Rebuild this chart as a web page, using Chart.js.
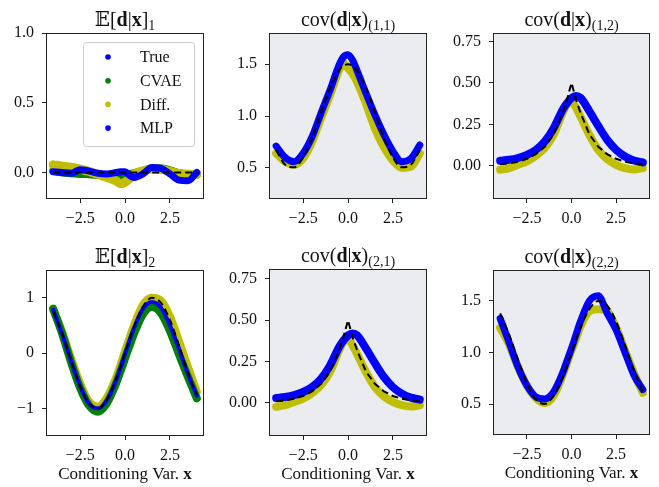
<!DOCTYPE html>
<html><head><meta charset="utf-8">
<script src="https://cdn.jsdelivr.net/npm/chart.js@4.4.1/dist/chart.umd.min.js"></script>
<style>
html,body{margin:0;padding:0;background:#fff;width:659px;height:487px;overflow:hidden;position:relative}
canvas{position:absolute}
</style></head><body>
<script>
// ---------- data ----------
const X = [-4,-3.5,-3,-2.5,-2,-1.5,-1,-0.5,-0.25,0,0.25,0.5,1,1.5,2,2.5,3,3.5,4];

// E[d|x]_1
const E1_REF  = [0,0,0,0,0,0,0,0,0,0,0,0,0,0,0,0,0,0,0];
const E1_MLP  = [0.005,0.0,-0.005,0.02,0.01,-0.005,-0.01,0.0,0.005,0.005,-0.02,-0.035,-0.01,0.035,0.03,-0.01,-0.055,-0.06,0.0];
const E1_CVAE = [0.012,0.0,-0.005,-0.01,-0.012,-0.018,-0.024,-0.026,-0.025,-0.02,-0.012,-0.005,0.01,0.028,0.03,0.015,-0.005,-0.012,-0.015];
const E1_DIFF = [0.055,0.045,0.038,0.025,0.008,-0.015,-0.035,-0.06,-0.08,-0.07,-0.045,-0.012,0.012,0.025,0.024,0.008,-0.006,-0.012,-0.014];

// cov(d|x)_(1,1)
const C11_REF  = [0.67,0.53,0.505,0.60,0.79,1.035,1.27,1.44,1.485,1.5,1.485,1.44,1.27,1.035,0.79,0.60,0.505,0.53,0.67];
const C11_MLP  = [0.71,0.60,0.56,0.64,0.80,1.03,1.25,1.49,1.57,1.59,1.54,1.44,1.22,1.01,0.82,0.66,0.56,0.59,0.72];
const C11_DIFF = [0.64,0.56,0.53,0.59,0.75,0.98,1.20,1.44,1.51,1.46,1.41,1.33,1.12,0.88,0.70,0.57,0.50,0.51,0.64];

// cov(d|x)_(1,2) = cov(d|x)_(2,1)
const C12_REF  = [0.01,0.015,0.025,0.042,0.07,0.115,0.19,0.32,0.40,0.50,0.40,0.32,0.19,0.115,0.07,0.042,0.025,0.015,0.01];
const C12_MLP  = [0.03,0.036,0.047,0.066,0.096,0.146,0.227,0.337,0.378,0.408,0.42,0.41,0.33,0.24,0.157,0.096,0.056,0.032,0.02];
const C12_DIFF = [-0.024,-0.014,0.006,0.026,0.06,0.107,0.187,0.317,0.37,0.385,0.35,0.297,0.187,0.096,0.04,0.006,-0.014,-0.022,-0.014];

// E[d|x]_2
const E2_REF  = [0.757,0.351,-0.141,-0.598,-0.909,-0.997,-0.841,-0.479,-0.247,0,0.247,0.479,0.841,0.997,0.909,0.598,0.141,-0.351,-0.757];
const E2_MLP  = [0.78,0.34,-0.15,-0.60,-0.92,-1.0,-0.85,-0.50,-0.27,-0.02,0.22,0.45,0.80,0.92,0.82,0.50,0.08,-0.38,-0.77];
const E2_CVAE = [0.80,0.35,-0.17,-0.63,-0.95,-1.06,-0.90,-0.55,-0.33,-0.10,0.13,0.35,0.70,0.83,0.72,0.40,-0.02,-0.43,-0.82];
const E2_DIFF = [0.78,0.38,-0.10,-0.55,-0.88,-0.97,-0.80,-0.45,-0.22,0.03,0.27,0.50,0.87,1.0,0.95,0.66,0.22,-0.25,-0.70];

// cov(d|x)_(2,2)
const C22_REF  = [1.38,1.175,0.93,0.70,0.545,0.50,0.58,0.76,0.876,1.0,1.124,1.24,1.42,1.50,1.455,1.30,1.07,0.825,0.62];
const C22_MLP  = [1.33,1.10,0.86,0.68,0.57,0.55,0.62,0.80,0.92,1.04,1.17,1.30,1.50,1.55,1.38,1.22,1.00,0.78,0.64];
const C22_DIFF = [1.24,1.08,0.86,0.68,0.56,0.51,0.58,0.78,0.90,1.02,1.13,1.25,1.40,1.42,1.40,1.24,1.02,0.80,0.61];

// ticks
const X_TICKS = [-2.5, 0, 2.5];
const X_TICK_LABELS = ['\u22122.5','0.0','2.5'];
const E1_Y_TICKS = [0, 0.5, 1.0];
const E1_Y_LABELS = ['0.0','0.5','1.0'];
const COV_DIAG_Y_TICKS = [0.5, 1.0, 1.5];
const COV_DIAG_Y_LABELS = ['0.5','1.0','1.5'];
const COV_OFF_Y_TICKS = [0, 0.25, 0.5, 0.75];
const COV_OFF_Y_LABELS = ['0.00','0.25','0.50','0.75'];
const E2_Y_TICKS = [-1, 0, 1];
const E2_Y_LABELS = ['\u22121','0','1'];

// legend
const LEGEND_LABELS = ['True','CVAE','Diff.','MLP'];
const LEGEND_COLORS = ['#0000ff','#008000','#bfbf00','#0000ff'];

// ---------- styling ----------
const BLUE = '#0000ff', GREEN = '#008000', YEL = '#bfbf00';
const FAM = "'Liberation Serif','DejaVu Serif','DejaVu Sans',serif";
const GRAY_BG = 'rgb(235,236,240)';
const XLABEL = [['Conditioning Var. ','r'],['x','b']];

function pts(ys){ return X.map((x,i)=>({x:x, y:ys[i]})); }
function band(ys,color,w,order){
  return {data:pts(ys), borderColor:color, backgroundColor:color, borderWidth:w, pointRadius:0,
    showLine:true, cubicInterpolationMode:'monotone', borderCapStyle:'round', borderJoinStyle:'round', order:order, fill:false};
}
function dashed(ys,smooth){
  return {data:pts(ys), borderColor:'#000', backgroundColor:'#000', borderWidth:2, borderDash:[7,4], pointRadius:0,
    showLine:true, cubicInterpolationMode: smooth?'monotone':'default', tension:0, order:0, fill:false};
}

const PANELS = [
 {id:'p1', area:[46,33,204,199], row:0, ymin:-0.19, ymax:1.0, yt:E1_Y_TICKS, yl:E1_Y_LABELS, bg:'#ffffff', legend:true,
  title:[['\u{1D53C}','r'],['[','r'],['d','b'],['|','r'],['x','b'],[']','r'],['1','s']],
  sets:[band(E1_CVAE,GREEN,8,3), band(E1_DIFF,YEL,9,2), band(E1_MLP,BLUE,7,1), dashed(E1_REF,true)]},
 {id:'p2', area:[269,33,427,199], row:0, ymin:0.2, ymax:1.8, yt:COV_DIAG_Y_TICKS, yl:COV_DIAG_Y_LABELS, bg:GRAY_BG,
  title:[['cov(','r'],['d','b'],['|','r'],['x','b'],[')','r'],['(1,1)','s']],
  sets:[band(C11_DIFF,YEL,8,2), band(C11_MLP,BLUE,7,1), dashed(C11_REF,true)]},
 {id:'p3', area:[493,33,650,199], row:0, ymin:-0.2, ymax:0.8, yt:COV_OFF_Y_TICKS, yl:COV_OFF_Y_LABELS, bg:GRAY_BG,
  title:[['cov(','r'],['d','b'],['|','r'],['x','b'],[')','r'],['(1,2)','s']],
  sets:[band(C12_DIFF,YEL,8,2), band(C12_MLP,BLUE,8,1), dashed(C12_REF,false)]},
 {id:'p4', area:[46,270,204,436], row:1, ymin:-1.5, ymax:1.5, yt:E2_Y_TICKS, yl:E2_Y_LABELS, bg:'#ffffff',
  title:[['\u{1D53C}','r'],['[','r'],['d','b'],['|','r'],['x','b'],[']','r'],['2','s']],
  sets:[band(E2_DIFF,YEL,8,3), band(E2_CVAE,GREEN,8,2), band(E2_MLP,BLUE,4,1), dashed(E2_REF,true)]},
 {id:'p5', area:[269,269,427,436], row:1, ymin:-0.2, ymax:0.81, yt:COV_OFF_Y_TICKS, yl:COV_OFF_Y_LABELS, bg:GRAY_BG,
  title:[['cov(','r'],['d','b'],['|','r'],['x','b'],[')','r'],['(2,1)','s']],
  sets:[band(C12_DIFF,YEL,8,2), band(C12_MLP,BLUE,8,1), dashed(C12_REF,false)]},
 {id:'p6', area:[493,270,650,435], row:1, ymin:0.2, ymax:1.8, yt:COV_DIAG_Y_TICKS, yl:COV_DIAG_Y_LABELS, bg:GRAY_BG,
  title:[['cov(','r'],['d','b'],['|','r'],['x','b'],[')','r'],['(2,2)','s']],
  sets:[band(C22_DIFF,YEL,8,2), band(C22_MLP,BLUE,7,1), dashed(C22_REF,true)]}
];
const BY_ID = {}; PANELS.forEach(p=>BY_ID[p.id]=p);

function rich(ctx, segs, cx, y, size){
  const fontOf = s => s==='b' ? `bold ${size}px ${FAM}` : s==='s' ? `${Math.round(size*0.7)}px ${FAM}` : `${size}px ${FAM}`;
  let w = 0;
  for (const [t,s] of segs){ ctx.font = fontOf(s); w += ctx.measureText(t).width; }
  let x = cx - w/2;
  ctx.textAlign = 'left'; ctx.textBaseline = 'alphabetic'; ctx.fillStyle = '#111';
  for (const [t,s] of segs){ ctx.font = fontOf(s); ctx.fillText(t, x, s==='s' ? y + size*0.22 : y); x += ctx.measureText(t).width; }
}

const deco = {
  id:'deco',
  beforeDraw(chart){
    const p = BY_ID[chart.canvas.id]; const a = chart.chartArea; const ctx = chart.ctx;
    ctx.save(); ctx.fillStyle = p.bg; ctx.fillRect(a.left, a.top, a.right-a.left, a.bottom-a.top); ctx.restore();
  },
  afterDraw(chart){
    const p = BY_ID[chart.canvas.id]; const a = chart.chartArea; const ctx = chart.ctx;
    ctx.save();
    ctx.strokeStyle = '#222'; ctx.lineWidth = 1;
    ctx.strokeRect(Math.round(a.left)+0.5, Math.round(a.top)+0.5, Math.round(a.right-a.left)-1, Math.round(a.bottom-a.top)-1);
    const cx = (a.left + a.right)/2;
    rich(ctx, p.title, cx, a.top - 7, 20);
    if (p.row === 1) rich(ctx, XLABEL, cx, a.bottom + 43, 17);
    if (p.legend){
      const w = 111, h = 104, bx = a.right - 10 - w, by = a.top + 9;
      ctx.beginPath(); ctx.roundRect(bx+0.5, by+0.5, w, h, 3);
      ctx.fillStyle = 'rgba(255,255,255,0.8)'; ctx.fill();
      ctx.strokeStyle = '#cccccc'; ctx.lineWidth = 1; ctx.stroke();
      ctx.font = `16px ${FAM}`; ctx.textBaseline = 'middle'; ctx.textAlign = 'left';
      LEGEND_LABELS.forEach((lab,i)=>{
        const yy = by + 15 + i*23.7;
        ctx.beginPath(); ctx.arc(bx+25, yy, 2.8, 0, Math.PI*2); ctx.fillStyle = LEGEND_COLORS[i]; ctx.fill();
        ctx.fillStyle = '#111'; ctx.fillText(lab, bx+57, yy+1);
      });
    }
    ctx.restore();
  }
};

PANELS.forEach(p=>{
  const [L,T,R,B] = p.area;
  const cTop = p.row === 0 ? 0 : 232;
  const XH = p.row === 0 ? 30 : 50;
  const cv = document.createElement('canvas');
  cv.id = p.id;
  const W = (R-L) + 46 + 8, H = (B - cTop) + XH;
  cv.width = W; cv.height = H;
  cv.style.left = (L-46)+'px'; cv.style.top = cTop+'px';
  cv.style.width = W+'px'; cv.style.height = H+'px';
  document.body.appendChild(cv);
  new Chart(cv, {
    type:'scatter',
    data:{datasets:p.sets},
    plugins:[deco],
    options:{
      responsive:false, animation:false, devicePixelRatio:1,
      layout:{padding:{top:T-cTop, right:8, left:0, bottom:0}},
      plugins:{legend:{display:false}, tooltip:{enabled:false}, title:{display:false}},
      scales:{
        x:{type:'linear', min:-4.4, max:4.4,
          afterBuildTicks: s => { s.ticks = X_TICKS.map(v=>({value:v})); },
          afterFit: s => { s.height = XH; },
          ticks:{callback:(v,i)=>X_TICK_LABELS[i], font:{family:FAM, size:16}, color:'#111', padding:6, maxRotation:0, autoSkip:false},
          grid:{display:true, drawOnChartArea:false, drawTicks:true, tickLength:4, color:'#222', lineWidth:1},
          border:{display:false}},
        y:{type:'linear', min:p.ymin, max:p.ymax,
          afterBuildTicks: s => { s.ticks = p.yt.map(v=>({value:v})); },
          afterFit: s => { s.width = 46; },
          ticks:{callback:(v,i)=>p.yl[i], font:{family:FAM, size:16}, color:'#111', padding:8, autoSkip:false},
          grid:{display:true, drawOnChartArea:false, drawTicks:true, tickLength:4, color:'#222', lineWidth:1},
          border:{display:false}}
      }
    }
  });
});
</script>
</body></html>
